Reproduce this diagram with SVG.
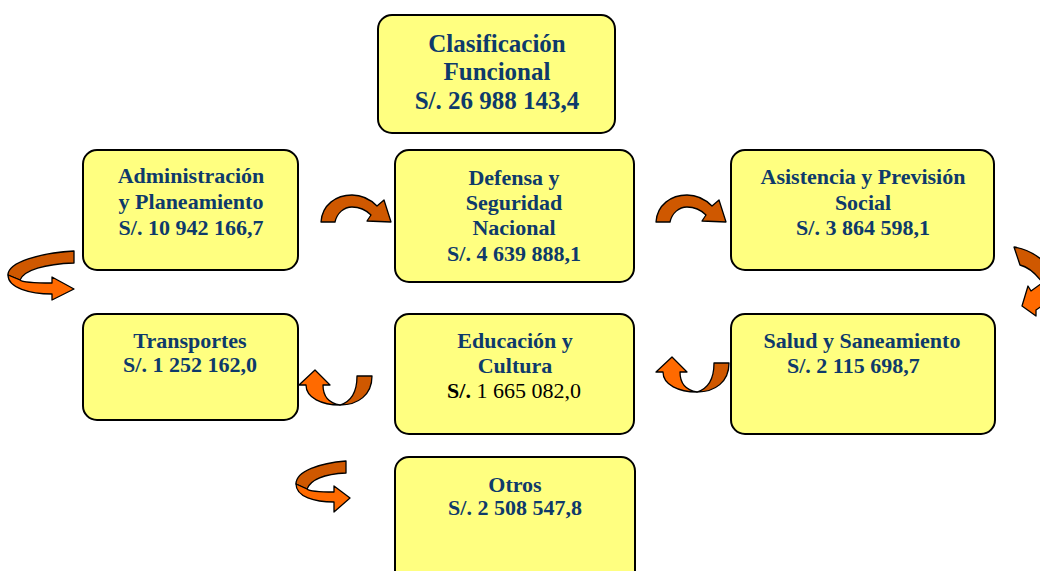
<svg xmlns="http://www.w3.org/2000/svg" width="1040" height="571" viewBox="0 0 1040 571">
<style>
.box{fill:#FFFF80;stroke:#000;stroke-width:2}
.t{font-family:"Liberation Serif","Times New Roman",serif;font-weight:bold;font-size:22px;fill:#0E3A6B;text-anchor:middle}
.big{font-size:25px}
.k{fill:#000}
.n{font-weight:normal}
.dk{fill:#CF5800;stroke:#000;stroke-width:1.3;stroke-linejoin:round}
.lt{fill:#FF6A00;stroke:#000;stroke-width:1.3;stroke-linejoin:round}
</style>
<defs>
<path id="arc" d="M321,222 C322,205 336,195 352,195 C363,195 371,200 377,206 L384,200 L391,222 L367,221 L371,215 C366,210 359,207 352,207 C344,207 337,213 335,222 Z"/>
<g id="u">
<path class="dk" d="M340,405 C353,401 357,390 357,376 L372,376 C372,395 358,405 340,405 Z"/>
<path class="lt" d="M340,405 C328,403 323,395 323,385 L330,385 L315,370 L299,385 L306,385 C306,398 322,405 340,405 Z"/>
</g>
</defs>
<rect width="1040" height="571" fill="#fff"/>
<g id="connectors">
<use href="#arc" class="dk"/>
<use href="#arc" class="dk" transform="translate(335,0)"/>
<use href="#u"/>
<use href="#u" transform="translate(357,-13)"/>
<g id="curl-left">
<path class="dk" d="M74,251 C40,253 8,262 8,275 L20,280 C24,270 45,264 74,263 Z"/>
<path class="lt" d="M8,275 C8,288 30,294 52,294 L52,300 L74,289 L52,277 L52,283 C36,283 22,282 20,280 Z"/>
</g>
<g id="curl-bottom">
<path class="dk" d="M346,461 C320,463 296,471 296,484 L307,489 C311,479 326,474 346,473 Z"/>
<path class="lt" d="M296,484 C296,497 315,502 334,502 L334,512 L350,498 L334,486 L334,492 C320,492 309,491 307,489 Z"/>
</g>
<g id="curl-right">
<path class="dk" d="M1014,247 C1026,249 1035,254 1042,260 L1042,282 C1036,274 1028,267 1020,265 Z"/>
<path class="lt" d="M1022,306 L1028,286 L1031,291 L1042,283 L1042,306 L1036,310 L1036,316 Z"/>
</g>
</g>
<g id="n-clasificacion">
<rect class="box" x="378" y="15" width="237" height="118" rx="14"/>
<text class="t big" x="497" y="52">Clasificación</text>
<text class="t big" x="497" y="80">Funcional</text>
<text class="t big" x="497" y="109">S/. 26 988 143,4</text>
</g>
<g id="n-administracion">
<rect class="box" x="83" y="150" width="215" height="120" rx="14"/>
<text class="t" x="191" y="183">Administración</text>
<text class="t" x="191" y="209">y Planeamiento</text>
<text class="t" x="191" y="235">S/. 10 942 166,7</text>
</g>
<g id="n-defensa">
<rect class="box" x="395" y="150" width="239" height="132" rx="14"/>
<text class="t" x="514" y="185">Defensa y</text>
<text class="t" x="514" y="210">Seguridad</text>
<text class="t" x="514" y="235">Nacional</text>
<text class="t" x="514" y="261">S/. 4 639 888,1</text>
</g>
<g id="n-asistencia">
<rect class="box" x="731" y="150" width="263" height="120" rx="14"/>
<text class="t" x="863" y="184">Asistencia y Previsión</text>
<text class="t" x="863" y="210">Social</text>
<text class="t" x="863" y="235">S/. 3 864 598,1</text>
</g>
<g id="n-transportes">
<rect class="box" x="83" y="314" width="215" height="106" rx="14"/>
<text class="t" x="190" y="348">Transportes</text>
<text class="t" x="190" y="372">S/. 1 252 162,0</text>
</g>
<g id="n-educacion">
<rect class="box" x="395" y="314" width="239" height="120" rx="14"/>
<text class="t" x="515" y="348">Educación y</text>
<text class="t" x="515" y="373">Cultura</text>
<text class="t k" x="514" y="398">S/.<tspan class="n"> 1 665 082,0</tspan></text>
</g>
<g id="n-salud">
<rect class="box" x="731" y="314" width="264" height="120" rx="14"/>
<text class="t" x="862" y="348">Salud y Saneamiento</text>
<text class="t" x="787" y="373" style="text-anchor:start">S/. 2 115 698,7</text>
</g>
<g id="n-otros">
<rect class="box" x="395" y="457" width="240" height="130" rx="14"/>
<text class="t" x="515" y="492">Otros</text>
<text class="t" x="515" y="515">S/. 2 508 547,8</text>
</g>
</svg>
